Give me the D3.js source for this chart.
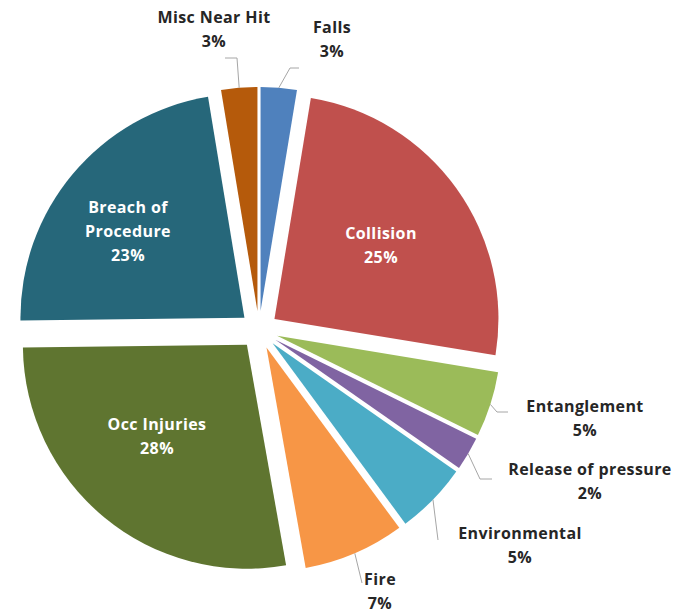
<!DOCTYPE html>
<html>
<head>
<meta charset="utf-8">
<script src="https://cdn.jsdelivr.net/npm/d3@7"></script>
<style>
	body{margin:0;background:#fff;}
	svg text{font-family:"Open Sans",Lato,sans-serif;font-weight:700;font-size:16px;letter-spacing:0.4px;}
	.leader{fill:none;stroke:#a6a6a6;stroke-width:1;}
</style>
</head>
<body>
<svg id="chart" width="676" height="614"></svg>
<script>
//Data, clockwise from 12 o'clock
var categories = ['Falls','Collision','Entanglement','Release of pressure','Environmental','Fire','Occ Injuries','Breach of Procedure','Misc Near Hit'];
var values = [2.6, 25.0, 4.7, 2.4, 5.2, 7.3, 27.6, 22.6, 2.6];
var labelLines = [['Falls'],['Collision'],['Entanglement'],['Release of pressure'],['Environmental'],['Fire'],['Occ Injuries'],['Breach of','Procedure'],['Misc Near Hit']];
var colors = ['#4f81bd','#c0504d','#9bbb59','#8064a2','#4bacc6','#f79646','#5f7530','#26677a','#b55a0b'];

//Layout: where each label sits (text centre, first baseline) and the tail of its leader line
var labelLayout = {
	'Falls':{x:332,y:33,inside:false,leader:[[290,68],[299,68]]},
	'Collision':{x:381,y:239,inside:true},
	'Entanglement':{x:585,y:412,inside:false,leader:[[497,412],[508,412]]},
	'Release of pressure':{x:590,y:475,inside:false,leader:[[480,479],[492,479]]},
	'Environmental':{x:520,y:539,inside:false,leader:[[438,540]]},
	'Fire':{x:380,y:585,inside:false,leader:[[362,583]]},
	'Occ Injuries':{x:157,y:430,inside:true},
	'Breach of Procedure':{x:128,y:213,inside:true},
	'Misc Near Hit':{x:214,y:23,inside:false,leader:[[237,58],[225,58]]}
};

var CX = 259, CY = 330, R = 224, EXPLODE = 19, LINE_H = 24;

var svg = d3.select('#chart');
var plot = svg.append('g').attr('transform','translate('+CX+','+CY+')');

var total = d3.sum(values);
var data = categories.map(function(c,i){return {name:c,value:values[i],lines:labelLines[i],color:colors[i]};});

var pie = d3.pie().sort(null).value(function(d){return d.value;});
var arc = d3.arc().innerRadius(0).outerRadius(R);
var arcs = pie(data);

function offset(d,r){
	var a = (d.startAngle+d.endAngle)/2;
	return [r*Math.sin(a), -r*Math.cos(a)];
}

plot.selectAll('.slice')
	.data(arcs)
	.enter()
	.append('path').attr('class','slice')
	.attr('transform',function(d){var o = offset(d,EXPLODE); return 'translate('+o[0]+','+o[1]+')';})
	.attr('d',arc)
	.attr('fill',function(d){return d.data.color;});

//leader lines, starting on the outer edge of the exploded slice
svg.selectAll('.leader')
	.data(arcs.filter(function(d){return !labelLayout[d.data.name].inside;}))
	.enter()
	.append('polyline').attr('class','leader')
	.attr('points',function(d){
		var o = offset(d,EXPLODE), e = offset(d,R);
		var pts = [[CX+o[0]+e[0], CY+o[1]+e[1]]].concat(labelLayout[d.data.name].leader);
		return pts.map(function(p){return p.join(',');}).join(' ');
	});

//labels
var labels = svg.selectAll('.label')
	.data(arcs)
	.enter()
	.append('text').attr('class','label')
	.attr('text-anchor','middle')
	.attr('fill',function(d){return labelLayout[d.data.name].inside ? '#ffffff' : '#262626';});

labels.each(function(d){
	var L = labelLayout[d.data.name];
	var lines = d.data.lines.concat([Math.round(d.data.value/total*100)+'%']);
	d3.select(this).selectAll('tspan')
		.data(lines)
		.enter()
		.append('tspan')
		.attr('x',L.x)
		.attr('y',function(t,i){return L.y + i*LINE_H;})
		.text(function(t){return t;});
});
</script>
</body>
</html>
